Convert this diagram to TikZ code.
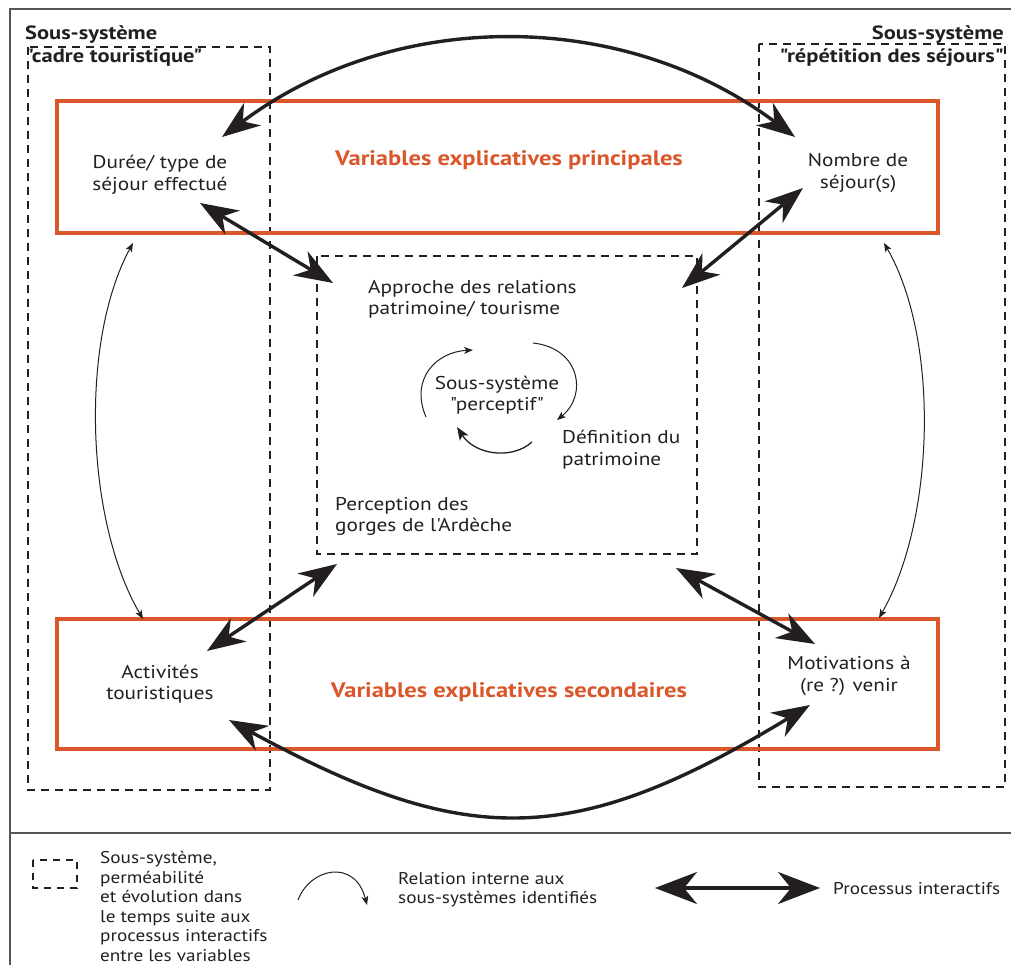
\documentclass[tikz,border=0pt]{standalone}
\usepackage{fontspec}
\setmainfont{PT Sans}[FakeStretch=1.15,Ligatures=TeXOff]
\newfontfamily\legfont[FakeStretch=1.13,Ligatures=TeXOff]{PT Sans}
\newfontfamily\boldwide[FakeStretch=1.17,Ligatures=TeXOff]{PT Sans Bold}
\usetikzlibrary{arrows.meta}
\definecolor{ink}{HTML}{231F20}
\definecolor{orng}{HTML}{D9572B}
\definecolor{frame}{HTML}{555555}
\tikzset{
  txt/.style={inner sep=0pt, text=ink, font=\fontsize{18.5}{21.5}\selectfont},
  ttl/.style={inner sep=0pt, text=ink, font=\fontsize{19.2}{23}\boldwide},
  otxt/.style={inner sep=0pt, text=orng, font=\fontsize{21}{24}\boldwide},
  legtxt/.style={inner sep=0pt, text=ink, align=left, font=\fontsize{17}{19.6}\legfont},
  subsys/.style={draw=ink, line width=1.5pt, dash pattern=on 8pt off 6pt},
  varbox/.style={draw=orng, line width=3.2pt},
  big/.style={draw=ink, line width=3.4pt, {Stealth[length=38pt,width=28pt,inset=12pt]}-{Stealth[length=38pt,width=28pt,inset=12pt]}},
  thin/.style={draw=ink, line width=1pt, -{Stealth[length=9pt,width=7pt,inset=2.5pt]}},
  thinb/.style={draw=ink, line width=1pt, {Stealth[length=9pt,width=7pt,inset=2.5pt]}-{Stealth[length=9pt,width=7pt,inset=2.5pt]}},
}
\begin{document}
\begin{tikzpicture}[x=1pt,y=-1pt]
\useasboundingbox (0,0) rectangle (1011,965);
% outer frame
\draw[frame, line width=2pt] (10,965) -- (10,9) -- (1011,9);
\draw[frame, line width=2pt] (10,833) -- (1011,833);

% subsystem boxes
\draw[subsys] (28,47) rectangle (270,790);
\draw[subsys] (759,44) rectangle (1005,787);
\draw[subsys] (317,256) rectangle (697,554);

% variable boxes
\draw[varbox] (57,101) rectangle (938,233);
\draw[varbox] (57,619) rectangle (938,749);

% titles
\node[ttl, anchor=north west, align=left] (tleft) at (25,25) {Sous-système\\"cadre touristique"};
\node[ttl, anchor=north east, align=right] (tright) at (1004,25) {Sous-système\\"répétition des séjours"};

% variable texts
\node[txt, align=center] (duree) at (160,175) {Durée/ type de\\séjour effectué};
\node[txt, align=center] (nombre) at (858,173) {Nombre de\\séjour(s)};
\node[txt, align=center] (activ) at (160,684) {Activités\\touristiques};
\node[txt, align=center] (motiv) at (849,676) {Motivations à\\(re ?) venir};
\node[otxt] (vprin) at (509,160) {Variables explicatives principales};
\node[otxt] (vsec) at (509,692) {Variables explicatives secondaires};

% perceptive subsystem texts
\node[txt, align=left, anchor=north west] (approche) at (368,280) {Approche des relations\\patrimoine/ tourisme};
\node[txt, align=center] (percept) at (497,395) {Sous-système\\"perceptif"};
\node[txt, align=left, anchor=north west] (defin) at (562,430) {Définition du\\patrimoine};
\node[txt, align=left, anchor=north west] (percep) at (335,497) {Perception des\\gorges de l'Ardèche};

% arrow end points
\coordinate (dA) at (222,137);
\coordinate (nA) at (795,137);
\coordinate (dB) at (200,203);
\coordinate (cTL) at (333,283);
\coordinate (nB) at (803,188);
\coordinate (cTR) at (682,288);
\coordinate (aA) at (207,651);
\coordinate (cBL) at (337,564);
\coordinate (mA) at (815,644);
\coordinate (cBR) at (676,568);
\coordinate (aB) at (229,720);
\coordinate (mB) at (810,705);
\coordinate (dT) at (133,243);
\coordinate (aT) at (143,619);
\coordinate (nT) at (884,243);
\coordinate (mT) at (879,618);

% big interactive arrows
\draw[big] (dA) .. controls (394,8) and (623,8) .. (nA);
\draw[big] (dB) -- (cTL);
\draw[big] (nB) -- (cTR);
\draw[big] (aA) -- (cBL);
\draw[big] (cBR) -- (mA);
\draw[big] (aB) .. controls (466,849) and (573,849) .. (mB);

% thin internal relations
\draw[thinb] (dT) .. controls (80,340) and (85,520) .. (aT);
\draw[thinb] (nT) .. controls (940,340) and (935,520) .. (mT);

% perceptive cycle
\coordinate (p1s) at (426,417);
\coordinate (p1e) at (473,350);
\coordinate (p2s) at (533,343);
\coordinate (p2e) at (557,420);
\coordinate (p3s) at (532,442);
\coordinate (p3e) at (457,427);
\draw[thin] (p1s) .. controls (410,380) and (435,352) .. (p1e);
\draw[thin] (p2s) .. controls (580,348) and (588,395) .. (p2e);
\draw[draw=ink, line width=1.3pt, -{Stealth[length=13pt,width=10pt,inset=3pt]}] (p3s) .. controls (512,460) and (475,455) .. (p3e);

% legend
\draw[subsys, line width=1.2pt, dash pattern=on 7pt off 6pt] (33,860) rectangle (77,888);
\node[legtxt, anchor=north west] (leg1) at (100,851) {Sous-système,\\perméabilité\\et évolution dans\\le temps suite aux\\processus interactifs\\entre les variables};
\coordinate (l2s) at (298,900);
\coordinate (l2e) at (367,905);
\draw[thin] (l2s) .. controls (310,868) and (355,858) .. (l2e);
\node[legtxt, anchor=north west] (leg2) at (398,872) {Relation interne aux\\sous-systèmes identifiés};
\coordinate (l3a) at (655,888);
\coordinate (l3b) at (820,888);
\draw[draw=ink, line width=3.4pt, {Stealth[length=42pt,width=32pt,inset=13pt]}-{Stealth[length=42pt,width=32pt,inset=13pt]}] (l3a) -- (l3b);
\node[legtxt, anchor=north west] (leg3) at (833,882) {Processus interactifs};
\end{tikzpicture}
\end{document}
